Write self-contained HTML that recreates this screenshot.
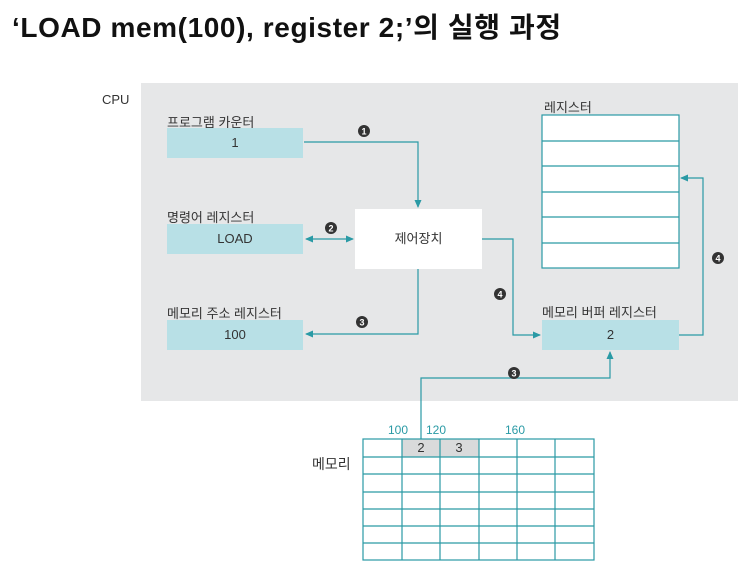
<!DOCTYPE html>
<html><head><meta charset="utf-8"><style>
body{margin:0;width:741px;height:570px;background:#fff;position:relative;overflow:hidden;font-family:"Liberation Sans","Noto Sans CJK KR",sans-serif;}
.a{position:absolute;}
.t{font-size:13px;color:#333;}
.box{position:absolute;background:#b8e0e6;font-size:13px;color:#333;text-align:center;}
</style></head><body>
<div class="a" style="left:12px;top:6px;font-size:28px;letter-spacing:0.6px;font-weight:bold;color:#111;">‘LOAD mem(100), register 2;’의 실행 과정</div>
<div class="a" style="left:141px;top:83px;width:597px;height:318px;background:#e6e7e8;"></div>
<div class="a t" style="left:102px;top:92px;">CPU</div>
<div class="a t" style="left:167px;top:112px;">프로그램 카운터</div>
<div class="box" style="left:167px;top:128px;width:136px;height:30px;line-height:30px;">1</div>
<div class="a t" style="left:167px;top:207px;">명령어 레지스터</div>
<div class="box" style="left:167px;top:224px;width:136px;height:30px;line-height:30px;">LOAD</div>
<div class="a t" style="left:167px;top:303px;">메모리 주소 레지스터</div>
<div class="box" style="left:167px;top:320px;width:136px;height:30px;line-height:30px;">100</div>
<div class="a" style="left:355px;top:209px;width:127px;height:60px;background:#fff;font-size:13px;color:#333;text-align:center;line-height:60px;">제어장치</div>
<div class="a t" style="left:544px;top:97px;">레지스터</div>
<div class="a t" style="left:542px;top:302px;">메모리 버퍼 레지스터</div>
<div class="box" style="left:542px;top:320px;width:137px;height:30px;line-height:30px;">2</div>
<div class="a t" style="left:312px;top:454px;font-size:14px;">메모리</div>
<div class="a" style="left:388px;top:423px;font-size:12px;color:#2a9aa5;">100</div>
<div class="a" style="left:426px;top:423px;font-size:12px;color:#2a9aa5;">120</div>
<div class="a" style="left:505px;top:423px;font-size:12px;color:#2a9aa5;">160</div>
<div class="a" style="left:402px;top:439px;width:77px;height:18px;background:#d9dadb;"></div>
<div class="a" style="left:402px;top:440px;width:38px;text-align:center;font-size:13px;color:#333;">2</div>
<div class="a" style="left:440px;top:440px;width:38px;text-align:center;font-size:13px;color:#333;">3</div>
<svg class="a" style="left:0;top:0" width="741" height="570">
<defs><marker id="m" markerWidth="8" markerHeight="8" refX="7" refY="4" orient="auto" markerUnits="userSpaceOnUse"><path d="M0,0.5 L8,4 L0,7.5z" fill="#2a9aa5"/></marker>
<marker id="ms" markerWidth="8" markerHeight="8" refX="1" refY="4" orient="auto" markerUnits="userSpaceOnUse"><path d="M8,0.5 L0,4 L8,7.5z" fill="#2a9aa5"/></marker></defs>
<g fill="#fff" stroke="#2a9aa5" stroke-width="1.2">
<rect x="542" y="115" width="137" height="153"/>
<line x1="542" y1="141" x2="679" y2="141"/><line x1="542" y1="166" x2="679" y2="166"/><line x1="542" y1="192" x2="679" y2="192"/><line x1="542" y1="217" x2="679" y2="217"/><line x1="542" y1="243" x2="679" y2="243"/>
</g>
<g fill="none" stroke="#2a9aa5" stroke-width="1.2">
<rect x="363" y="439" width="231" height="121"/>
<line x1="402" y1="439" x2="402" y2="560"/><line x1="440" y1="439" x2="440" y2="560"/><line x1="479" y1="439" x2="479" y2="560"/><line x1="517" y1="439" x2="517" y2="560"/><line x1="555" y1="439" x2="555" y2="560"/>
<line x1="363" y1="457" x2="594" y2="457"/><line x1="363" y1="474" x2="594" y2="474"/><line x1="363" y1="492" x2="594" y2="492"/><line x1="363" y1="509" x2="594" y2="509"/><line x1="363" y1="526" x2="594" y2="526"/><line x1="363" y1="543" x2="594" y2="543"/>
<polyline points="304,142 418,142 418,207" marker-end="url(#m)"/>
<line x1="306" y1="239" x2="353" y2="239" marker-start="url(#ms)" marker-end="url(#m)"/>
<polyline points="418,269 418,334 306,334" marker-end="url(#m)"/>
<polyline points="482,239 513,239 513,335 540,335" marker-end="url(#m)"/>
<polyline points="679,335 703,335 703,178 681,178" marker-end="url(#m)"/>
<polyline points="421,439 421,378 610,378 610,352" marker-end="url(#m)"/>
</g>
<g fill="#333" font-size="9" font-weight="bold" text-anchor="middle" font-family="Liberation Sans">
<circle cx="364" cy="131" r="6"/><text x="364" y="134.5" fill="#fff">1</text>
<circle cx="331" cy="228" r="6"/><text x="331" y="231.5" fill="#fff">2</text>
<circle cx="362" cy="322" r="6"/><text x="362" y="325.5" fill="#fff">3</text>
<circle cx="500" cy="294" r="6"/><text x="500" y="297.5" fill="#fff">4</text>
<circle cx="718" cy="258" r="6"/><text x="718" y="261.5" fill="#fff">4</text>
<circle cx="514" cy="373" r="6"/><text x="514" y="376.5" fill="#fff">3</text>
</g>
</svg>
</body></html>
